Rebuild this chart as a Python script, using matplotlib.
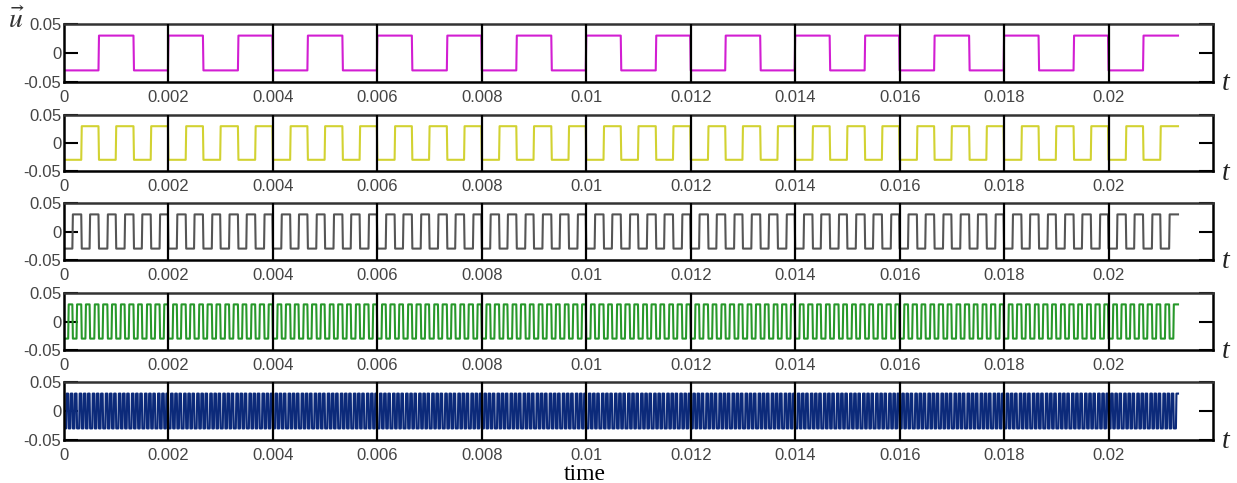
"""Five square-wave carriers (750 Hz .. 12 kHz) stacked on a common time axis."""

import matplotlib

matplotlib.use("Agg")
import numpy as np  # noqa: E402
import matplotlib.pyplot as plt  # noqa: E402

# signal parameters
freqs_hz = [750, 1500, 3000, 6000, 12000]
amplitude = 0.03
t_end = 0.021333
sample_rate = 1e5
colors = ["#d21ed2", "#d2d232", "#555555", "#27982a", "#0c2a7a"]

xticks = [0, 0.002, 0.004, 0.006, 0.008, 0.01, 0.012, 0.014, 0.016, 0.018, 0.02]
xtick_labels = ["0", "0.002", "0.004", "0.006", "0.008", "0.01",
                "0.012", "0.014", "0.016", "0.018", "0.02"]
yticks = [-0.05, 0, 0.05]
ytick_labels = ["-0.05", "0", "0.05"]

# axes boxes in pixels (top, bottom) for a 1237x483 canvas
W, H = 1237, 483
boxes = [(24, 82), (115, 171), (203, 260), (293, 350), (382, 440)]
left_px, right_px = 64, 1213

plt.rcParams["mathtext.fontset"] = "stix"
fig = plt.figure(figsize=(W / 100, H / 100), dpi=100)
t = np.arange(0, t_end, 1 / sample_rate)

for i, (f, c) in enumerate(zip(freqs_hz, colors)):
    top, bot = boxes[i]
    ax = fig.add_axes([left_px / W, 1 - bot / H, (right_px - left_px) / W, (bot - top) / H])
    u = -amplitude * np.sign(np.sin(2 * np.pi * f * t + 1e-9))
    ax.plot(t, u, color=c, linewidth=1.5)
    ax.set_xlim(0, 0.022)
    ax.set_ylim(-0.05, 0.05)
    ax.set_xticks(xticks)
    ax.set_xticklabels(xtick_labels)
    ax.set_yticks(yticks)
    ax.set_yticklabels(ytick_labels)
    ax.tick_params(axis="x", length=0, pad=6, labelsize=12, labelcolor="#444444")
    ax.tick_params(axis="y", direction="in", length=10, width=1.5, right=True,
                   labelright=False, pad=2, labelsize=12, labelcolor="#444444")
    for lbl in ax.get_xticklabels() + ax.get_yticklabels():
        lbl.set_fontfamily("Liberation Sans")
    for xv in xticks[1:]:
        ax.axvline(xv, color="black", linewidth=1.6, zorder=3)
    for sp in ax.spines.values():
        sp.set_linewidth(1.8)
        sp.set_color("black")
    ax.spines["top"].set_color("#333333")
    fig.text(1222 / W, 1 - (bot + 2) / H, "t", fontsize=20, style="italic",
             family="Liberation Serif", ha="left", va="center", color="#222222")

fig.text(585 / W, 1 - 474 / H, "time", fontsize=17, family="Liberation Serif",
         ha="center", va="center")
fig.text(16 / W, 1 - 20 / H, r"$\vec{u}$", fontsize=20, ha="center", va="center",
         color="#333333")

fig.savefig("out.png", dpi=100)
